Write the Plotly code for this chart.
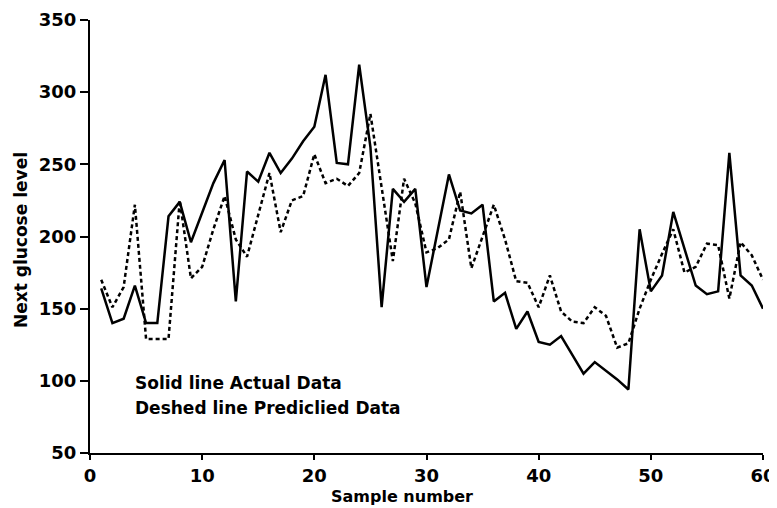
import plotly.graph_objects as go

samples = list(range(1, 61))
actual = [164, 140, 143, 166, 140, 140, 214, 224, 196, 217,
          237, 253, 155, 245, 238, 258, 244, 254, 266, 276,
          312, 251, 250, 319, 262, 151, 233, 224, 233, 165,
          205, 243, 218, 216, 222, 155, 161, 136, 148, 127,
          125, 131, 118, 105, 113, 107, 101, 94, 205, 162,
          173, 217, 192, 166, 160, 162, 258, 173, 166, 150]
predicted = [170, 151, 165, 222, 129, 129, 129, 225, 171, 179,
             205, 228, 198, 186, 215, 244, 203, 225, 228, 257,
             237, 240, 235, 244, 285, 235, 183, 240, 223, 189,
             192, 198, 231, 178, 200, 222, 198, 169, 168, 151,
             173, 148, 141, 140, 151, 145, 123, 126, 150, 170,
             188, 205, 175, 179, 195, 194, 157, 196, 187, 170]

x_ticks = [0, 10, 20, 30, 40, 50, 60]
y_ticks = [50, 100, 150, 200, 250, 300, 350]

fig = go.Figure()
fig.add_trace(go.Scatter(x=samples, y=predicted, mode="lines",
                         line=dict(color="black", width=2.5, dash="4px,3px")))
fig.add_trace(go.Scatter(x=samples, y=actual, mode="lines",
                         line=dict(color="black", width=2.5)))

ff = "DejaVu Sans"
W, H = 777, 508
OFF = 8  # page body margin offset
# target screen positions of plot area
left_s, right_s, top_s, bottom_s = 90, 763, 20, 453
l = left_s - OFF
t = top_s - OFF
r = W - (right_s - OFF)
b = H - (bottom_s - OFF)
pw, ph = W - l - r, H - t - b

axis_common = dict(showgrid=False, zeroline=False, automargin=False,
                   showline=True, linecolor="black", linewidth=2,
                   ticks="outside", tickwidth=2, tickcolor="black",
                   tickfont=dict(size=18, family=ff, weight="bold", color="black"))
fig.update_layout(
    width=W, height=H,
    margin=dict(l=l, r=r, t=t, b=b),
    plot_bgcolor="white", paper_bgcolor="white",
    showlegend=False,
    font=dict(family=ff, color="black"),
    xaxis=dict(range=[0, 60], tickvals=x_ticks, ticklen=5, **axis_common),
    yaxis=dict(range=[50, 350], tickvals=y_ticks, ticklen=8, **axis_common),
)


def px(xs):
    return (xs - OFF - l) / pw


def py(ys):
    return (H - b - (ys - OFF)) / ph


fig.add_annotation(x=px(402), y=py(497), xref="paper", yref="paper", showarrow=False,
                   xanchor="center", yanchor="middle",
                   text="Sample number", font=dict(size=16, family=ff, weight="bold"))
fig.add_annotation(x=px(21), y=py(240), xref="paper", yref="paper", showarrow=False,
                   xanchor="center", yanchor="middle", textangle=-90,
                   text="Next glucose level", font=dict(size=17, family=ff, weight="bold"))
fig.add_annotation(x=px(133), y=py(383), xref="paper", yref="paper", showarrow=False,
                   xanchor="left", yanchor="middle",
                   text="Solid line Actual Data", font=dict(size=17, family=ff, weight="bold"))
fig.add_annotation(x=px(133), y=py(408), xref="paper", yref="paper", showarrow=False,
                   xanchor="left", yanchor="middle",
                   text="Deshed line Prediclied Data", font=dict(size=17, family=ff, weight="bold"))

fig.write_html("out.html")
